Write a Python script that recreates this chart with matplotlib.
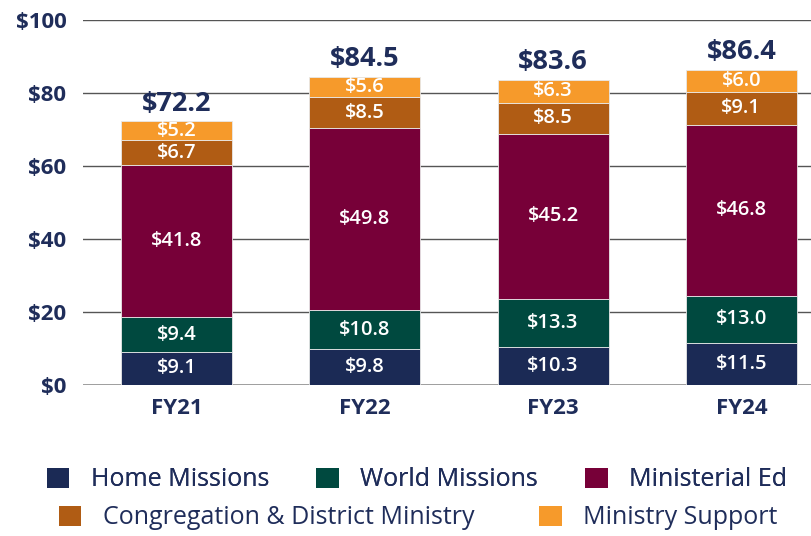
import matplotlib.pyplot as plt
from matplotlib.patches import Patch
import numpy as np

years = ["FY21", "FY22", "FY23", "FY24"]
series = ["Home Missions", "World Missions", "Ministerial Ed",
          "Congregation & District Ministry", "Ministry Support"]
home = [9.1, 9.8, 10.3, 11.5]
world = [9.4, 10.8, 13.3, 13.0]
ministerial = [41.8, 49.8, 45.2, 46.8]
congregation = [6.7, 8.5, 8.5, 9.1]
support = [5.2, 5.6, 6.3, 6.0]
totals = [72.2, 84.5, 83.6, 86.4]

colors = ["#1b2a55", "#00493f", "#770038", "#b05c14", "#f69a2b"]
navy = "#1f2d5a"

plt.rcParams["font.family"] = ["Open Sans", "DejaVu Sans"]

fig = plt.figure(figsize=(8.11, 5.36), dpi=100)
ax = fig.add_axes([83 / 811, (536 - 385) / 536, 1 - 83 / 811, 365 / 536])

x = np.arange(len(years))
bottom = np.zeros(len(years))
for vals, col in zip([home, world, ministerial, congregation, support], colors):
    vals = np.array(vals)
    ax.bar(x, vals, 0.59, bottom=bottom, color=col, edgecolor="#e8e8e8",
           linewidth=0.6, zorder=2)
    for xi, b, v in zip(x, bottom, vals):
        ax.text(xi, b + v / 2, f"${v:.1f}", ha="center", va="center",
                color="white", fontsize=14.5, fontweight="semibold", zorder=3)
    bottom += vals

for xi, t in zip(x, totals):
    ax.text(xi, t + 3.0, f"${t:.1f}", ha="center", va="baseline",
            color=navy, fontsize=19.5, fontweight="bold")

ax.set_ylim(0, 100)
ax.set_xlim(-0.497, 3.37)
ax.set_yticks(range(0, 101, 20))
ax.set_yticklabels([f"${v}" for v in range(0, 101, 20)])
ax.set_xticks(x)
ax.set_xticklabels(years)
ax.tick_params(length=0, colors=navy, labelsize=16, pad=9)
for lab in ax.get_xticklabels() + ax.get_yticklabels():
    lab.set_fontweight("bold")
ax.tick_params(axis="y", pad=12)
ax.grid(axis="y", color="#555555", linewidth=1.0, zorder=0)
ax.set_axisbelow(True)
for s in ax.spines.values():
    s.set_visible(False)
ax.axhline(0, color="#999999", linewidth=2, zorder=1)

handles = [Patch(facecolor=c) for c in colors]
leg_font = {"size": 18}
leg1 = fig.legend(handles[:3], series[:3], ncol=3, loc="center",
                  bbox_to_anchor=(417 / 811, 1 - 480 / 536), frameon=False,
                  prop=leg_font, labelcolor=navy, handlelength=0.9,
                  handleheight=0.9, handletextpad=0.85, columnspacing=1.9,
                  borderpad=0, borderaxespad=0)
leg2 = fig.legend(handles[3:], series[3:], ncol=2, loc="center",
                  bbox_to_anchor=(418 / 811, 1 - 518 / 536), frameon=False,
                  prop=leg_font, labelcolor=navy, handlelength=0.9,
                  handleheight=0.9, handletextpad=0.85, columnspacing=2.6,
                  borderpad=0, borderaxespad=0)
fig.add_artist(leg1)

fig.savefig("out.png", dpi=100)
